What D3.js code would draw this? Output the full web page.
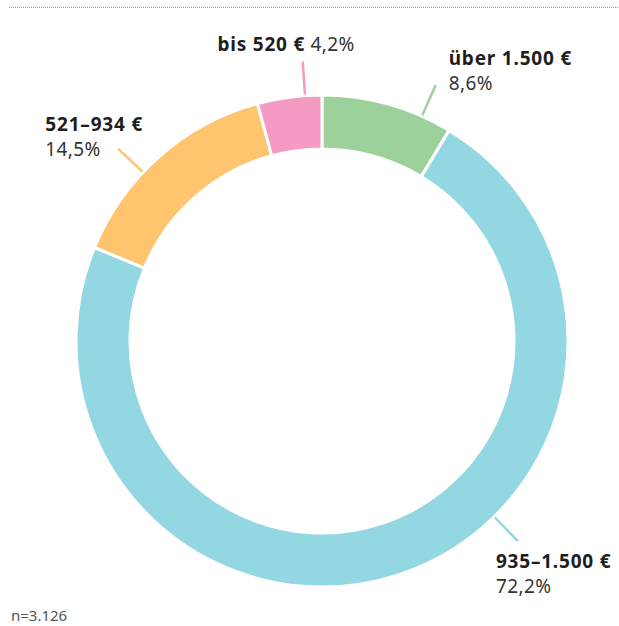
<!DOCTYPE html>
<html>
<head>
<meta charset="utf-8">
<script src="https://cdn.jsdelivr.net/npm/d3@7"></script>
<style>
	body { margin: 0; background: #fff; }
	svg { display: block; font-family: "Noto Sans", Lato, sans-serif; }
</style>
</head>
<body>
<div id="chart"></div>
<script>
let categories	= ["über 1.500 €", "935–1.500 €", "521–934 €", "bis 520 €"];
let values		= [8.6, 72.2, 14.5, 4.2];
let valueLabels	= ["8,6%", "72,2%", "14,5%", "4,2%"];
let colors		= ["#9dd19b", "#93d7e3", "#fec46e", "#f49ac3"];
let sampleNote	= "n=3.126";

// where along each slice the leader line sits, and how the label hangs off it
let labelLayout	= [
	{ frac: 0.77, dx: 13, dy: -20, anchor: "start", inline: false },
	{ frac: 0.40, dx: -22, dy: 27, anchor: "start", inline: false },
	{ frac: 0.40, dx: -73, dy: -18, anchor: "start", inline: false },
	{ frac: 0.74, dx: 52, dy: -11, anchor: "end", inline: true }
];

function createChart() {
	let width	= 619;
	let height	= 626;
	let cx		= 322;
	let cy		= 341;
	let outerR	= 246;
	let innerR	= 192;
	let fs		= 19;

	let svg = d3.select("#chart").append("svg")
		.attr("width", width)
		.attr("height", height);

	svg.append("line")
		.attr("x1", 9).attr("x2", width)
		.attr("y1", 7.5).attr("y2", 7.5)
		.attr("stroke", "#9a9a9a")
		.attr("stroke-width", 1)
		.attr("stroke-dasharray", "1,1");

	let data = categories.map((c, i) => ({ name: c, value: values[i], label: valueLabels[i], color: colors[i], layout: labelLayout[i] }));

	let pie = d3.pie().sort(null).value((d) => d.value);
	let arc = d3.arc().innerRadius(innerR).outerRadius(outerR);

	let g = svg.append("g").attr("transform", "translate(" + cx + "," + cy + ")");

	let arcs = pie(data);

	g.selectAll("path.slice")
		.data(arcs)
		.enter().append("path")
		.attr("class", "slice")
		.attr("d", arc)
		.attr("fill", (o) => o.data.color)
		.attr("stroke", "#fff")
		.attr("stroke-width", 3);

	arcs.forEach((o) => {
		let lay = o.data.layout;
		let a = o.startAngle + (o.endAngle - o.startAngle) * lay.frac;
		let r0 = outerR + 1, r1 = outerR + 34;
		let x0 = Math.sin(a) * r0, y0 = -Math.cos(a) * r0;
		let x1 = Math.sin(a) * r1, y1 = -Math.cos(a) * r1;

		g.append("line")
			.attr("x1", x0).attr("y1", y0)
			.attr("x2", x1).attr("y2", y1)
			.attr("stroke", o.data.color)
			.attr("stroke-width", 2.5);

		let tx = x1 + lay.dx, ty = y1 + lay.dy;

		if (lay.inline) {
			let t = g.append("text")
				.attr("x", tx).attr("y", ty)
				.attr("text-anchor", lay.anchor);
			t.append("tspan")
				.attr("font-weight", 700).attr("font-size", fs).attr("fill", "#1e1e1e")
				.attr("letter-spacing", 0.8)
				.text(o.data.name);
			t.append("tspan")
				.attr("font-size", fs).attr("fill", "#333")
				.attr("letter-spacing", 0.4)
				.text(" " + o.data.label);
		} else {
			g.append("text")
				.attr("x", tx).attr("y", ty)
				.attr("text-anchor", lay.anchor)
				.attr("font-weight", 700).attr("font-size", fs).attr("fill", "#1e1e1e")
				.attr("letter-spacing", 0.8)
				.text(o.data.name);
			g.append("text")
				.attr("x", tx).attr("y", ty + 25)
				.attr("text-anchor", lay.anchor)
				.attr("font-size", fs).attr("fill", "#333")
				.attr("letter-spacing", 0.4)
				.text(o.data.label);
		}
	});

	svg.append("text")
		.attr("x", 11).attr("y", 621)
		.attr("font-size", 15).attr("fill", "#555")
		.text(sampleNote);
}

createChart();
</script>
</body>
</html>
